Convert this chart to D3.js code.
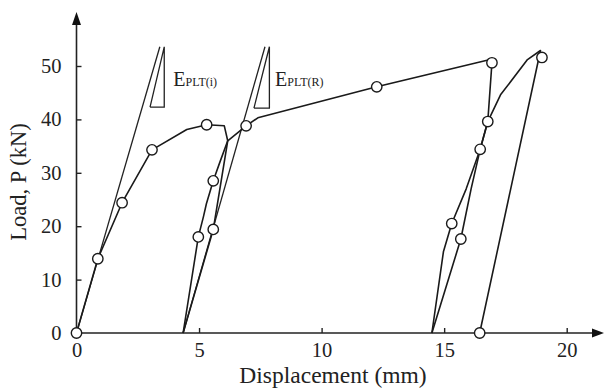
<!DOCTYPE html>
<html><head><meta charset="utf-8">
<script src="https://cdn.jsdelivr.net/npm/d3@7"></script>
<style>html,body{margin:0;padding:0;background:#fff}svg{display:block}</style>
</head><body><svg id="c" width="606" height="388"></svg>
<script>
// ---- data (displacement mm, load kN) ----
const xTicks = [0, 5, 10, 15, 20];
const yTicks = [0, 10, 20, 30, 40, 50];
const loading1 = [[0,0],[0.87,13.9],[1.86,24.4],[3.08,34.3],[4.5,38.1],[5.31,39.0],[6.03,38.8],[6.17,36.0]];
const unloading1 = [[6.17,36.0],[5.85,32.0],[5.58,28.5],[5.3,24.2],[5.18,21.8],[4.97,18.0],[4.35,0]];
const reloading1 = [[4.35,0],[5.58,19.4],[6.17,36.0],[6.92,38.8],[7.4,40.3],[12.25,46.1],[16.88,51.2],[16.95,50.6]];
const unloading2 = [[16.95,50.6],[16.78,39.6],[16.47,34.4],[15.9,27.0],[15.31,20.5],[14.97,15.2],[14.5,0]];
const reloading2 = [[14.5,0],[15.68,17.6],[16.1,27.0],[16.47,34.4],[16.78,39.6],[17.3,44.6],[18.4,51.2],[18.93,52.9],[16.45,0]];
const markers = [[0,0],[0.87,13.9],[1.86,24.4],[3.08,34.3],[5.31,39.0],[5.58,28.5],[4.97,18.0],[5.58,19.4],
  [6.92,38.8],[12.25,46.1],[16.95,50.6],[16.78,39.6],[16.47,34.4],[15.31,20.5],[15.68,17.6],[16.45,0],[18.99,51.6]];
const stiffLine1 = [[0,0],[3.40,53.6]];
const stiffLine2 = [[4.35,0],[7.69,53.6]];
const triangle1 = [[3.0,42.3],[3.58,53.6],[3.58,42.3],[3.0,42.3]];
const triangle2 = [[7.24,42.1],[7.87,53.6],[7.87,42.1],[7.24,42.1]];
const labels = [{x:3.95, y:46.25, main:"E", sub:"PLT(i)"},{x:8.1, y:46.25, main:"E", sub:"PLT(R)"}];

const svg = d3.select("#c");
const x = d3.scaleLinear().domain([0,20]).range([76.5,566.7]);
const y = d3.scaleLinear().domain([0,50]).range([333,66]);
const font = '"Liberation Serif"';
const line = d3.line().x(d=>x(d[0])).y(d=>y(d[1]));

// axes
const g = svg.append("g");
g.append("line").attr("x1",x(0)).attr("x2",596).attr("y1",y(0)).attr("y2",y(0)).attr("stroke","#222").attr("stroke-width",1.6);
g.append("line").attr("x1",x(0)).attr("x2",x(0)).attr("y1",y(0)).attr("y2",22).attr("stroke","#222").attr("stroke-width",1.6);
g.append("path").attr("d",`M604,${y(0)} L592,${y(0)-4.5} L592,${y(0)+4.5} Z`).attr("fill","#111");
g.append("path").attr("d",`M${x(0)},12 L${x(0)-4.5},25 L${x(0)+4.5},25 Z`).attr("fill","#111");

const xAxis = d3.axisBottom(x).tickValues(xTicks).tickSize(-5).tickPadding(12);
const xg = svg.append("g").attr("transform",`translate(0,${y(0)})`).call(xAxis);
xg.attr("font-family",null).attr("font-size",null);
xg.select(".domain").remove();
xg.selectAll(".tick line").attr("stroke","#222").attr("stroke-width",1.4);
xg.selectAll("text").style("font-family",font).style("font-size","20.5px").attr("fill","#222").attr("dy","0.71em").attr("y",9);

const yAxis = d3.axisLeft(y).tickValues(yTicks).tickSize(-5).tickPadding(15);
const yg = svg.append("g").attr("transform",`translate(${x(0)},0)`).call(yAxis);
yg.attr("font-family",null).attr("font-size",null);
yg.select(".domain").remove();
yg.selectAll(".tick line").attr("stroke","#222").attr("stroke-width",1.4);
yg.selectAll("text").style("font-family",font).style("font-size","20.5px").attr("fill","#222");

// titles
svg.append("text").attr("x",333).attr("y",383).attr("text-anchor","middle").style("font-family",font)
  .style("font-size","23.5px").attr("fill","#222").text("Displacement (mm)");
svg.append("text").attr("transform","translate(26,182) rotate(-90)").attr("text-anchor","middle").style("font-family",font)
  .style("font-size","22.5px").attr("fill","#222").text("Load, P (kN)");

// stiffness lines and triangles
[stiffLine1, stiffLine2, triangle1, triangle2].forEach(d=>{
  svg.append("path").attr("d",line(d)).attr("fill","none").attr("stroke","#222").attr("stroke-width",1.3);
});
labels.forEach(l=>{
  const t = svg.append("text").attr("x",x(l.x)).attr("y",y(l.y)).style("font-family",font).attr("fill","#222");
  t.append("tspan").style("font-size","20px").text(l.main);
  t.append("tspan").style("font-size","12px").text(l.sub);
});

// curves
[loading1, unloading1, reloading1, unloading2, reloading2].forEach(d=>{
  svg.append("path").attr("d",line(d)).attr("fill","none").attr("stroke","#1a1a1a").attr("stroke-width",1.6).attr("stroke-linejoin","round");
});
svg.selectAll("circle.m").data(markers).join("circle").attr("class","m")
  .attr("cx",d=>x(d[0])).attr("cy",d=>y(d[1])).attr("r",5.2)
  .attr("fill","#fff").attr("stroke","#1a1a1a").attr("stroke-width",1.4);
</script></body></html>
